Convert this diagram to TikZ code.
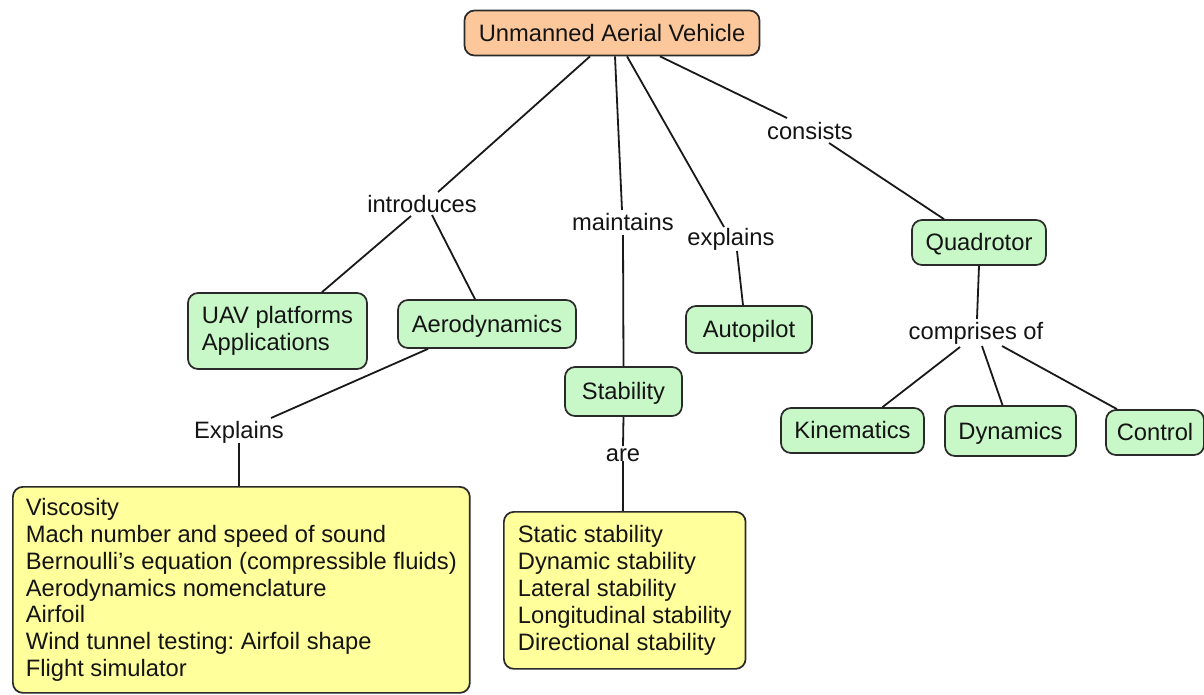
\documentclass[tikz,border=0pt]{standalone}
\usepackage{fontspec}
\setmainfont{Liberation Sans}
\usetikzlibrary{calc}
\definecolor{boxgreen}{HTML}{C8F7C8}
\definecolor{boxorange}{HTML}{FCC89B}
\definecolor{boxyellow}{HTML}{FFFF9C}
\definecolor{edgegray}{HTML}{2A2A2A}
\frenchspacing
\begin{document}
\begin{tikzpicture}[x=0.75pt,y=-0.75pt,
  every node/.style={font=\fontsize{17.8}{20.15}\selectfont, text=black!92},
  concept/.style={draw=edgegray, line width=1.3pt, rounded corners=7.5pt, inner sep=0pt,
     text height=14.5pt, text depth=1.9pt},
  greenbox/.style={concept, fill=boxgreen},
  listbox/.style={draw=edgegray, line width=1.3pt, rounded corners=7.5pt, fill=boxyellow,
     align=left, inner ysep=0pt, anchor=north west},
  linklabel/.style={inner sep=0pt, text height=12.8pt, text depth=3.2pt},
  link/.style={draw=black!90, line width=1.35pt}]
\useasboundingbox (0,0) rectangle (1204,694);

% concepts
\node[concept, fill=boxorange, minimum width=221.25pt, minimum height=33.75pt] (uav) at (612,33) {Unmanned Aerial Vehicle};
\node[draw=edgegray, line width=1.3pt, rounded corners=7.5pt, fill=boxgreen, align=left,
      minimum width=134.25pt, minimum height=57pt, inner sep=0pt] (plat) at (277.5,331) {UAV platforms\\Applications};
\node[greenbox, minimum width=133.5pt, minimum height=36pt] (aero) at (487,324) {Aerodynamics};
\node[greenbox, minimum width=94.5pt, minimum height=35.25pt] (auto) at (749,329.5) {Autopilot};
\node[greenbox, minimum width=87.75pt, minimum height=36.75pt] (stab) at (623.5,391.5) {Stability};
\node[greenbox, minimum width=100.5pt, minimum height=33.75pt] (quad) at (979,242.5) {Quadrotor};
\node[greenbox, minimum width=107.25pt, minimum height=33.75pt] (kin) at (852.5,430.5) {Kinematics};
\node[greenbox, minimum width=98.25pt, minimum height=37.5pt] (dyn) at (1010.5,431) {Dynamics};
\node[greenbox, minimum width=73.5pt, minimum height=33.75pt] (ctrl) at (1155,432.5) {Control};

\node[listbox, inner xsep=9.75pt, minimum height=154.5pt] (box1) at (12,486)
  {Viscosity\\Mach number and speed of sound\\Bernoulli’s equation (compressible fluids)\\Aerodynamics nomenclature\\Airfoil\\Wind tunnel testing: Airfoil shape\\Flight simulator};
\node[listbox, inner xsep=10.5pt, minimum height=117.75pt] (box2) at (503,511)
  {Static stability\\Dynamic stability\\Lateral stability\\Longitudinal stability\\Directional stability};

% link labels
\node[linklabel] (intro) at (422,206) {introduces};
\node[linklabel] (maint) at (623,224) {maintains};
\node[linklabel] (expl) at (731,239) {explains};
\node[linklabel] (cons) at (810,133) {consists};
\node[linklabel] (comp) at (976,333) {comprises of};
\node[linklabel] (expl2) at (239,432) {Explains};
\node[linklabel] (are) at (623,455) {are};

% connectors
\draw[link] ($(uav.south)+(-22,0)$) -- ($(intro)+(16,-14)$);
\draw[link] ($(intro)+(-11,10)$) -- ($(plat.north)+(44.5,0)$);
\draw[link] ($(intro)+(10,9)$) -- ($(aero.north)+(-12,0)$);

\draw[link] ($(uav.south)+(3,0)$) -- ($(maint)+(-1,-14)$);
\draw[link] ($(maint)+(0,11)$) -- (stab.north);

\draw[link] ($(uav.south)+(15,0)$) -- ($(expl)+(-7,-12)$);
\draw[link] ($(expl)+(6,12)$) -- ($(auto.north)+(-6,0)$);

\draw[link] ($(uav.south)+(48,0)$) -- ($(cons)+(-23,-15)$);
\draw[link] ($(cons)+(19,10)$) -- ($(quad.north)+(-35,0)$);

\draw[link] (quad.south) -- ($(comp)+(1,-14)$);
\draw[link] ($(comp)+(-16,14)$) -- ($(kin.north)+(30,0)$);
\draw[link] ($(comp)+(6,13)$) -- ($(dyn.north)+(-8,0)$);
\draw[link] ($(comp)+(26,13)$) -- ($(ctrl.north)+(-38,0)$);

\draw[link] ($(aero.south)+(-59,0)$) -- ($(expl2)+(32,-14)$);
\draw[link] (expl2.south) -- (expl2.south |- box1.north);

\draw[link] (stab.south) -- ($(are)+(0,-9)$);
\draw[link] ($(are)+(0,6)$) -- (are |- box2.north);
\end{tikzpicture}
\end{document}
